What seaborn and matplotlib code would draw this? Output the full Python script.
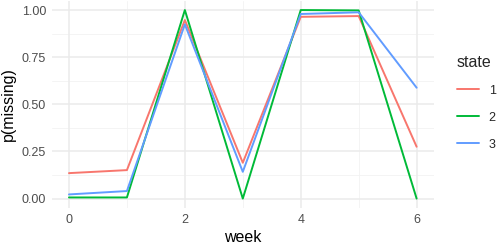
import matplotlib
matplotlib.use("Agg")
import matplotlib.pyplot as plt
import seaborn as sns
import pandas as pd
from matplotlib.lines import Line2D

weeks = [0, 1, 2, 3, 4, 5, 6]
state_1 = [0.135, 0.151, 0.947, 0.190, 0.964, 0.968, 0.275]
state_2 = [0.006, 0.006, 1.000, 0.000, 1.000, 0.998, 0.000]
state_3 = [0.022, 0.040, 0.924, 0.142, 0.979, 0.988, 0.588]
states = ["1", "2", "3"]
colors = ["#F8766D", "#00BA38", "#619CFF"]

df = pd.DataFrame({
    "week": weeks * 3,
    "p": state_1 + state_2 + state_3,
    "state": [s for s in states for _ in weeks],
})

sns.set_theme(style="white")
plt.rcParams["font.family"] = ["Liberation Sans", "DejaVu Sans"]

fig = plt.figure(figsize=(4.98, 2.44), dpi=100)
ax = fig.add_axes([0.1036, 0.1475, 0.7679, 0.85])

# ggplot-like minimal grid
for v in [0.125, 0.375, 0.625, 0.875]:
    ax.axhline(v, color="#F2F2F2", lw=0.6, zorder=0)
for v in [1, 3, 5]:
    ax.axvline(v, color="#F2F2F2", lw=0.6, zorder=0)
for v in [0, 0.25, 0.5, 0.75, 1.0]:
    ax.axhline(v, color="#EBEBEB", lw=1.1, zorder=0)
for v in [0, 2, 4, 6]:
    ax.axvline(v, color="#EBEBEB", lw=1.1, zorder=0)

sns.lineplot(data=df, x="week", y="p", hue="state", palette=colors,
             linewidth=1.4, ax=ax, legend=False, zorder=3)

ax.set_xlim(-0.3, 6.3)
ax.set_ylim(-0.05, 1.05)
ax.set_xticks([0, 2, 4, 6])
ax.set_yticks([0, 0.25, 0.5, 0.75, 1.0])
ax.set_yticklabels(["0.00", "0.25", "0.50", "0.75", "1.00"])
ax.tick_params(length=0, labelsize=9, labelcolor="#4D4D4D", pad=4)
for s in ax.spines.values():
    s.set_visible(False)
ax.set_xlabel("week", fontsize=11.5, color="black", labelpad=3)
ax.set_ylabel("p(missing)", fontsize=11.5, color="black", labelpad=4)

handles = [Line2D([0], [0], color=c, lw=1.4) for c in colors]
leg = fig.legend(handles, states, title="state", loc="upper left",
                 bbox_to_anchor=(453 / 498, 1 - 51 / 244), frameon=False,
                 fontsize=9, title_fontsize=11.5, handlelength=1.75,
                 handletextpad=0.8, labelspacing=1.2, alignment="left",
                 borderaxespad=0, borderpad=0.3)

fig.savefig("out.png", dpi=100)
